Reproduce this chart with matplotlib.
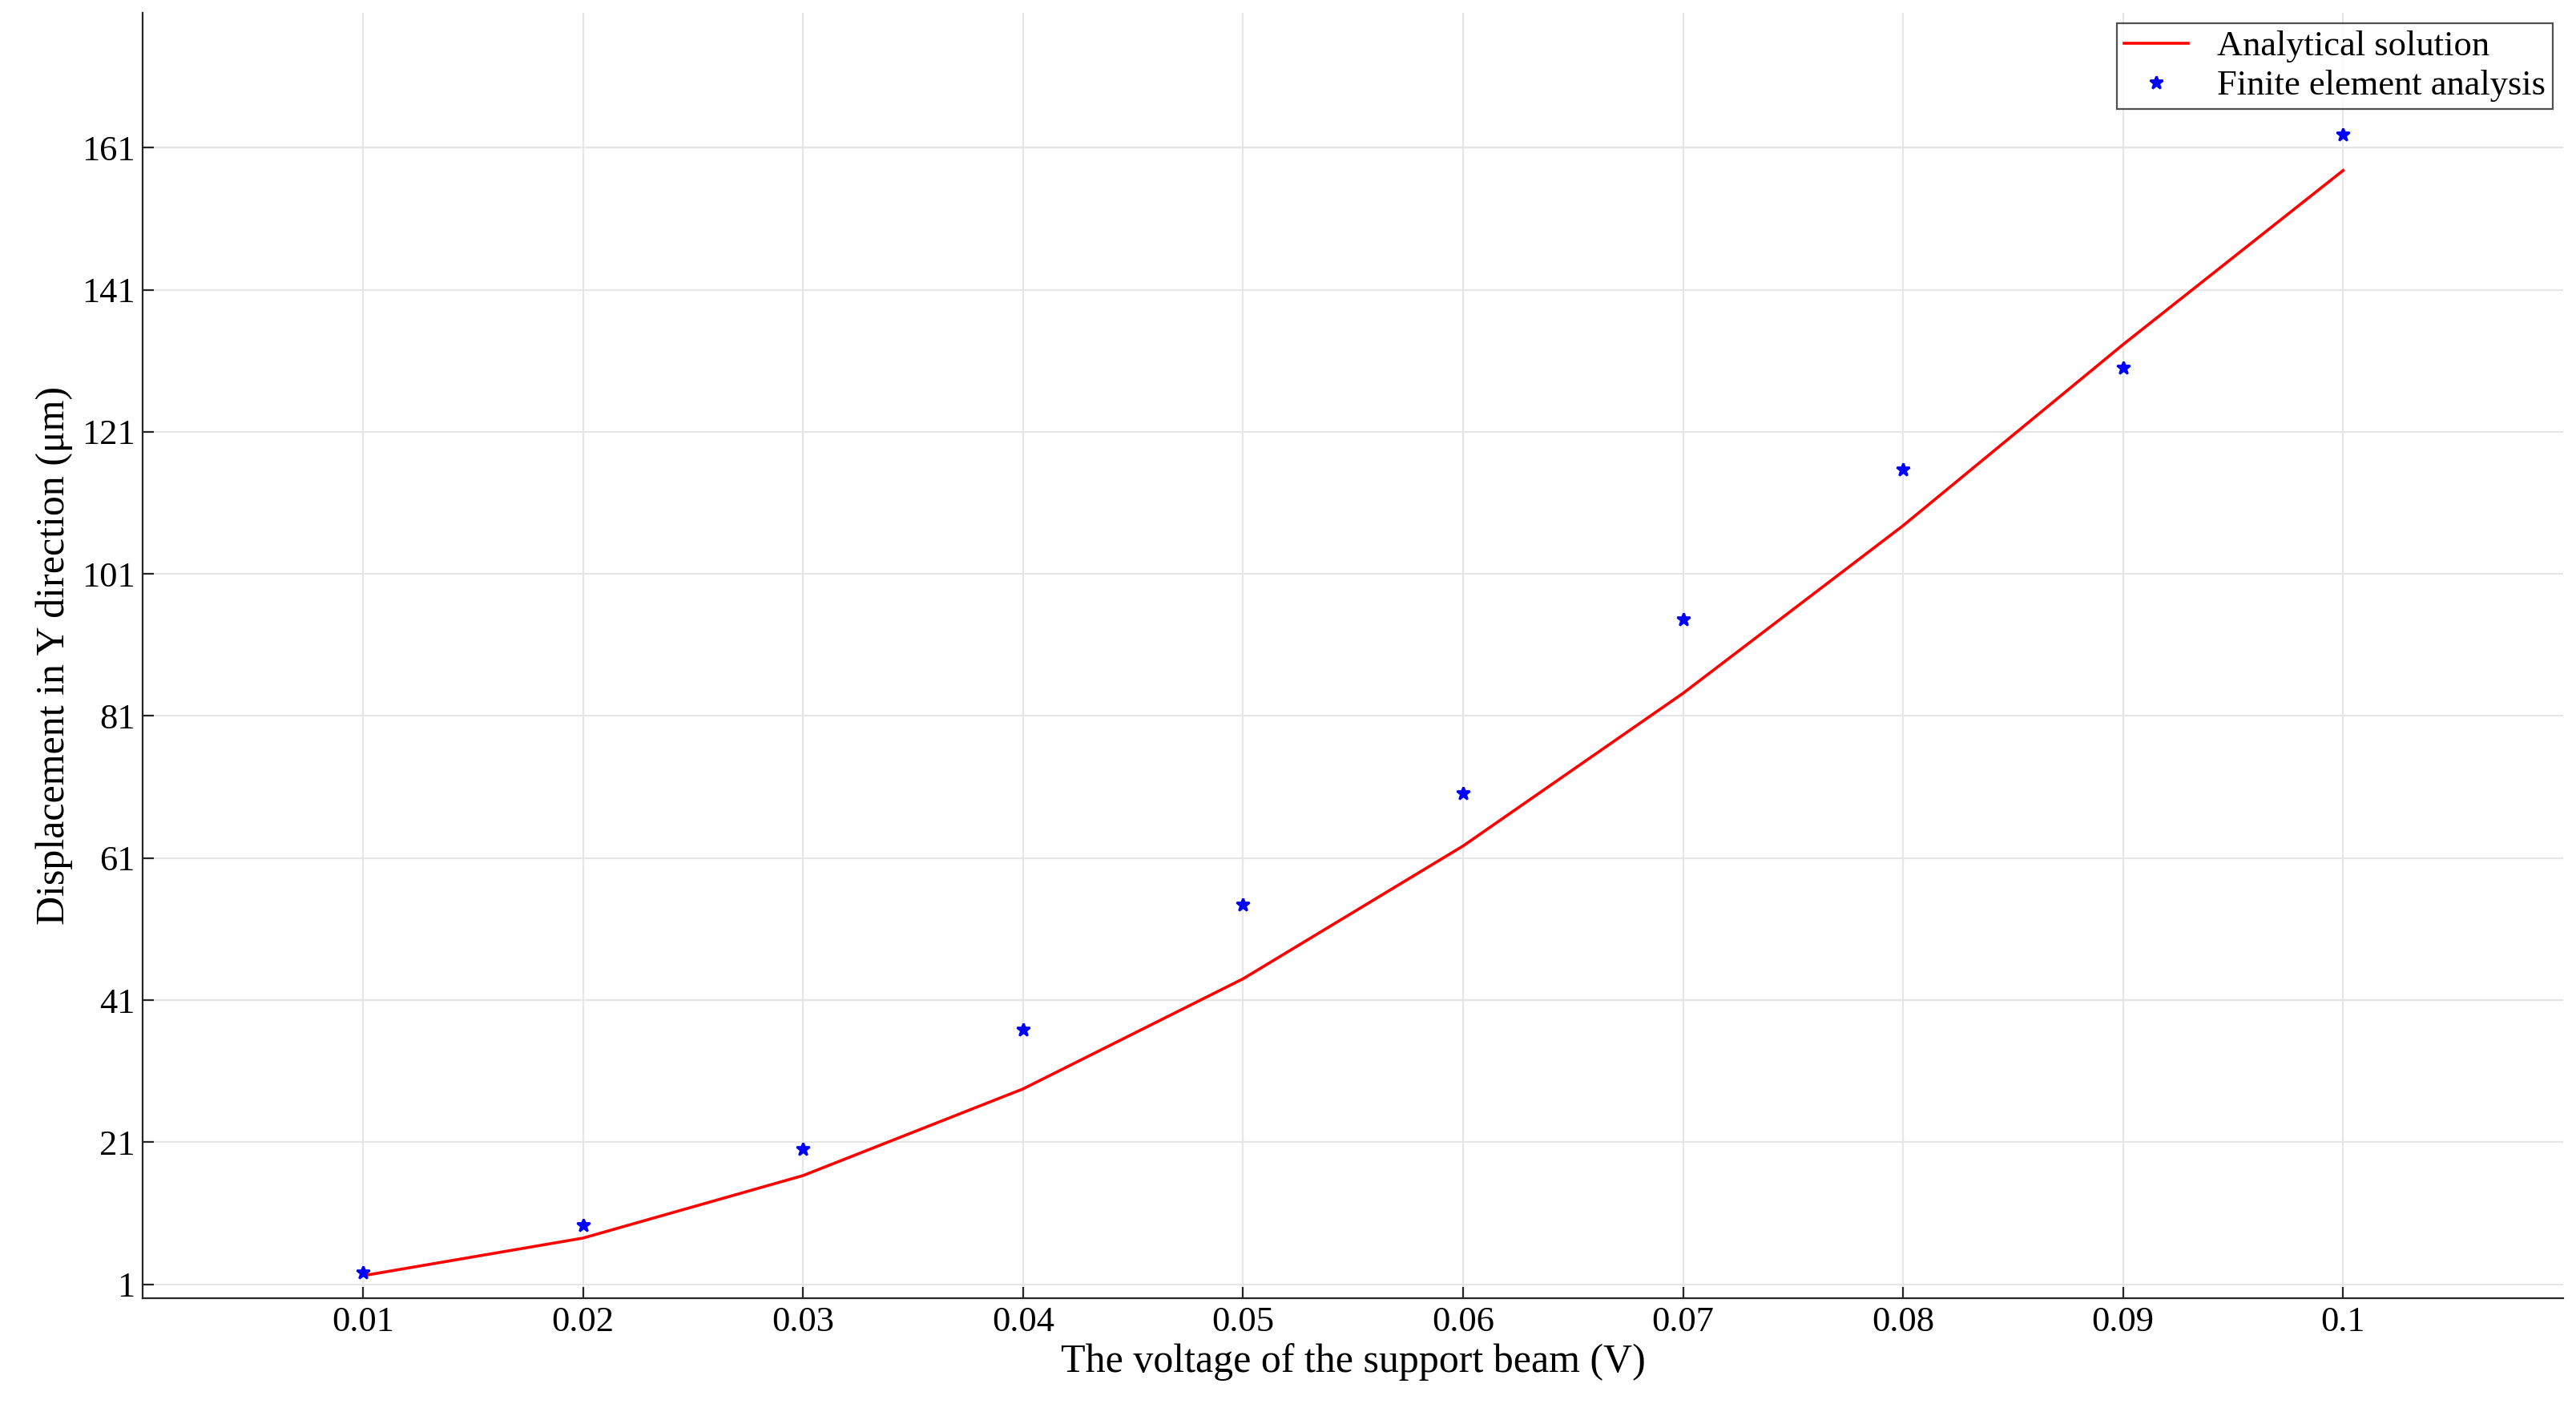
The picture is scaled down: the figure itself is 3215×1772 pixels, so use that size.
import matplotlib
matplotlib.use('Agg')
import matplotlib.pyplot as plt
import numpy as np

plt.rcParams['font.family'] = ['Liberation Serif', 'DejaVu Serif']

voltage = [0.01, 0.02, 0.03, 0.04, 0.05, 0.06, 0.07, 0.08, 0.09, 0.1]
analytical = [2.2, 7.5, 16.3, 28.5, 44.0, 62.7, 84.2, 107.8, 133.3, 157.8]
fea = [2.6, 9.3, 20.0, 36.8, 54.4, 70.1, 94.6, 115.7, 130.0, 162.8]
xticks = [0.01, 0.02, 0.03, 0.04, 0.05, 0.06, 0.07, 0.08, 0.09, 0.1]
xticklabels = ['0.01', '0.02', '0.03', '0.04', '0.05', '0.06', '0.07', '0.08', '0.09', '0.1']
yticks = [1, 21, 41, 61, 81, 101, 121, 141, 161]

fig = plt.figure(figsize=(16.075, 8.86), dpi=200)
ax = fig.add_axes([0.0555, 0.0856, 0.9395, 0.9054])
ax.plot(voltage, analytical, color='red', lw=1.3, label='Analytical solution')
ax.plot(voltage, fea, ls='none', marker='*', color='blue', ms=6, label='Finite element analysis')

ax.set_xlim(0, 0.11)
ax.set_ylim(-1, 180)
ax.set_xticks(xticks)
ax.set_xticklabels(xticklabels)
ax.set_yticks(yticks)
ax.tick_params(direction='in', labelsize=16, length=5, color='#262626')
ax.grid(True, color='#e6e6e6', lw=0.8)
ax.set_axisbelow(True)
for s in ['top', 'right']:
    ax.spines[s].set_visible(False)
for s in ['left', 'bottom']:
    ax.spines[s].set_color('#262626')
ax.set_xlabel('The voltage of the support beam (V)', fontsize=18, labelpad=2)
ax.set_ylabel('Displacement in Y direction (μm)', fontsize=18, labelpad=4)
leg = ax.legend(loc='upper right', fontsize=16, fancybox=False, edgecolor='#262626',
                borderaxespad=0.3, handlelength=1.8, borderpad=0.2, labelspacing=0.2)
leg.get_frame().set_linewidth(0.8)

fig.savefig('out.png', dpi=200)
